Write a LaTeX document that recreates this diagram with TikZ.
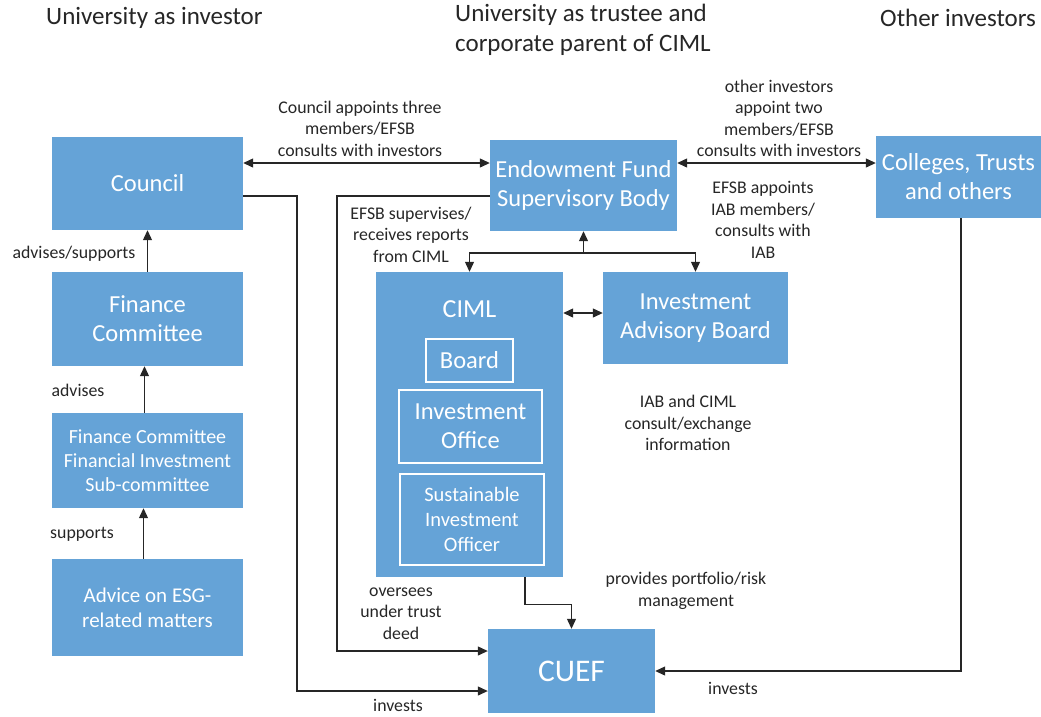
\documentclass[tikz,border=0pt]{standalone}
\usepackage{fontspec}
\setmainfont{Carlito}
\usetikzlibrary{arrows.meta}
\definecolor{boxblue}{RGB}{101,163,215}
\definecolor{labtext}{RGB}{38,38,38}
\begin{document}
\begin{tikzpicture}[x=1pt,y=-1pt,
  box/.style={fill=boxblue, draw=none, text=white, align=center, inner sep=0pt},
  inbox/.style={draw=white, line width=1.1pt, text=white, align=center, inner sep=0pt},
  lab/.style={text=labtext, align=center, inner sep=0pt, font=\fontsize{17.8}{21.5}\selectfont},
  head/.style={text=labtext, anchor=west, align=left, inner sep=0pt, font=\fontsize{25}{30}\selectfont},
  conn/.style={line width=1.2pt, draw=black!85},
  tip/.style={-{Triangle[length=10pt,width=9pt]}},
  tips/.style={{Triangle[length=10pt,width=9pt]}-{Triangle[length=10pt,width=9pt]}},
  bigtext/.style={font=\fontsize{24.5}{29}\selectfont}
]
\useasboundingbox (0,0) rectangle (1041,716);

% headings
\node[head] (h1) at (46,18) {University as investor};
\node[head, anchor=north west] (h2) at (455,4) {University as trustee and\\corporate parent of CIML};
\node[head] (h3) at (880,18) {Other investors};

% left column boxes
\node[box, bigtext, minimum width=191pt, minimum height=93pt] (council) at (147.5,183.5) {Council};
\node[box, bigtext, minimum width=191pt, minimum height=94pt] (fc) at (147.5,319) {Finance\\Committee};
\node[box, font=\fontsize{20}{24}\selectfont, minimum width=191pt, minimum height=95pt] (fisc) at (147.5,460.5) {Finance Committee\\Financial Investment\\Sub-committee};
\node[box, font=\fontsize{21}{25}\selectfont, minimum width=191pt, minimum height=97pt] (esg) at (147.5,607.5) {Advice on ESG-\\related matters};

% middle boxes
\node[box, bigtext, minimum width=187pt, minimum height=91pt] (efsb) at (583.5,185.5) {Endowment Fund\\Supervisory Body};
\node[box, minimum width=187pt, minimum height=305pt] (ciml) at (469.5,424.5) {};
\node[text=white, inner sep=0pt, font=\fontsize{26}{30}\selectfont] (cimlt) at (469.5,309) {CIML};
\node[inbox, bigtext, minimum width=87pt, minimum height=43pt] (board) at (469.5,360.5) {Board};
\node[inbox, bigtext, minimum width=143pt, minimum height=73pt] (io) at (470.5,426.5) {Investment\\Office};
\node[inbox, font=\fontsize{20.5}{25}\selectfont, minimum width=144pt, minimum height=91pt] (sio) at (472,519.5) {Sustainable\\Investment\\Officer};
\node[box, bigtext, minimum width=185pt, minimum height=92pt] (iab) at (695.5,318) {Investment\\Advisory Board};
\node[box, font=\fontsize{31.5}{36}\selectfont, minimum width=167pt, minimum height=84pt] (cuef) at (571.5,671) {CUEF};

% right box
\node[box, bigtext, minimum width=165pt, minimum height=82pt] (coll) at (958.5,177) {Colleges, Trusts\\and others};

% connectors
\draw[conn, tips] ([yshift=20.5pt]council.east) -- ([yshift=22.5pt]efsb.west);
\draw[conn, tips] ([yshift=22.5pt]efsb.east) -- ([yshift=14pt]coll.west);

\coordinate (jn) at (583.5,253);
\draw[conn, tip] (jn) -- (efsb.south);
\draw[conn, tip] (jn) -| (ciml.north);
\draw[conn, tip] (jn) -| (iab.north);

\draw[conn, tips] ([yshift=111.5pt]ciml.east) -- ([yshift=5pt]iab.west);

\coordinate (c1) at (337,651);
\draw[conn, tip] ([yshift=-10.5pt]efsb.west) -| (c1) -- ([yshift=20pt]cuef.west);

\coordinate (c2) at (297,691);
\draw[conn, tip] ([yshift=-12.5pt]council.east) -| (c2) -- ([yshift=-20pt]cuef.west);

\draw[conn, tip] ([xshift=55.5pt]ciml.south) -- ++(0,27) -| (cuef.north);

\draw[conn, tip] ([xshift=2.5pt]coll.south) |- (cuef.east);

\draw[conn, tip] (fc.north) -- (council.south);
\draw[conn, tip] ([xshift=-3pt]fisc.north) -- ([xshift=-3pt]fc.south);
\draw[conn, tip] ([xshift=-4pt]esg.north) -- ([xshift=-4pt]fisc.south);

% labels
\node[lab] (l1) at (360,128.5) {Council appoints three\\members/EFSB\\consults with investors};
\node[lab] (l2) at (779,118.5) {other investors\\appoint two\\members/EFSB\\consults with investors};
\node[lab] (l3) at (763,220) {EFSB appoints\\IAB members/\\consults with\\IAB};
\node[lab] (l4) at (411,234.5) {EFSB supervises/\\receives reports\\from CIML};
\node[lab] (l5) at (688,423) {IAB and CIML\\consult/exchange\\information};
\node[lab] (l6) at (686,591) {provides portfolio/risk\\management};
\node[lab] (l7) at (401,613.5) {oversees\\under trust\\deed};
\node[lab] (l8) at (398,705) {invests};
\node[lab] (l9) at (733,688) {invests};
\node[lab] (l10) at (74,254) {advises/supports};
\node[lab] (l11) at (78,390) {advises};
\node[lab] (l12) at (82,534) {supports};
\end{tikzpicture}
\end{document}
